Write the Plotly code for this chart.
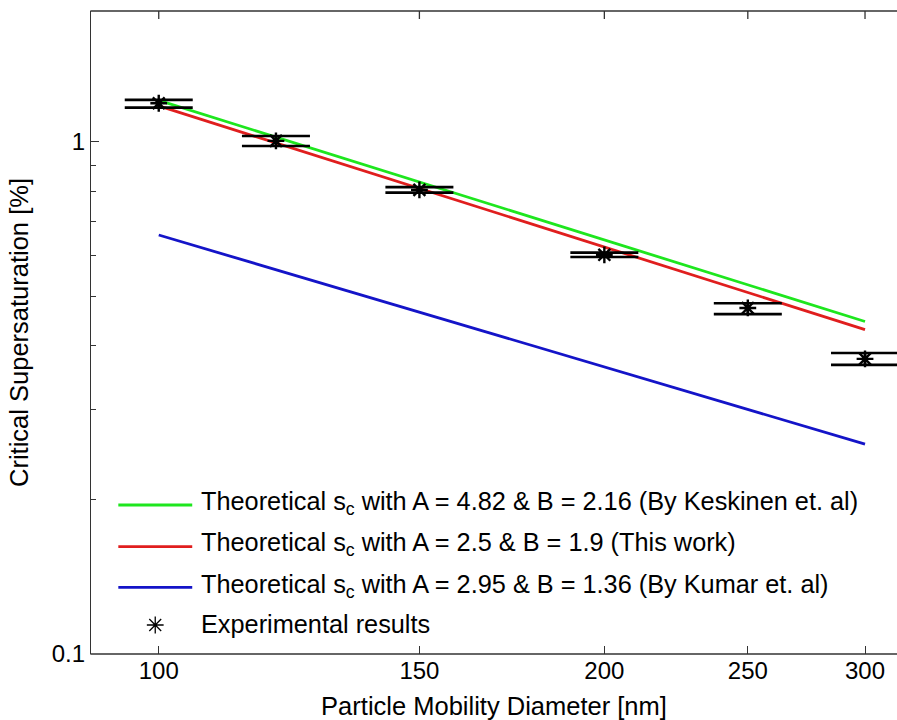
import math
import plotly.graph_objects as go

# ---------------- data ----------------
diameter_nm = [100, 120, 150, 200, 250, 300]
sc_experimental = [1.19, 1.005, 0.806, 0.602, 0.474, 0.377]
sc_err_plus = [0.018, 0.022, 0.010, 0.006, 0.010, 0.010]
sc_err_minus = [0.023, 0.023, 0.010, 0.006, 0.013, 0.010]

theory_diameter = [100, 300]
sc_keskinen = [1.205, 0.446]
sc_this_work = [1.176, 0.430]
sc_kumar = [0.658, 0.257]

series_names = [
    "Theoretical s<sub>c</sub> with A = 4.82 & B = 2.16 (By Keskinen et. al)",
    "Theoretical s<sub>c</sub> with A = 2.5 & B = 1.9 (This work)",
    "Theoretical s<sub>c</sub> with A = 2.95 & B = 1.36 (By Kumar et. al)",
    "Experimental results",
]
series_colors = ["#1ee61e", "#e01e1e", "#1414c8", "#000000"]

x_tick_vals = [100, 150, 200, 250, 300]
x_tick_text = ["100", "150", "200", "250", "300"]
y_tick_vals = [0.1, 1]
y_tick_text = ["0.1", "1"]
y_minor_vals = [0.2, 0.3, 0.4, 0.5, 0.6, 0.7, 0.8, 0.9]

X_RANGE = [math.log10(90), math.log10(315.3)]
Y_RANGE = [-1, 0.2557]

FONT = "Liberation Sans, Arial, Helvetica, sans-serif"
AXC = "#333333"
PLOT_H = 720 - 11 - 66

fig = go.Figure()

theory = [sc_keskinen, sc_this_work, sc_kumar]
for vals, name, col in zip(theory, series_names[:3], series_colors[:3]):
    fig.add_trace(go.Scatter(
        x=theory_diameter, y=vals, mode="lines", name=name,
        line=dict(color=col, width=2.8), showlegend=False))

fig.add_trace(go.Scatter(
    x=diameter_nm, y=sc_experimental, mode="markers", name=series_names[3],
    marker=dict(symbol="asterisk-open", size=14, color="black",
                line=dict(color="black", width=2.4)),
    error_y=dict(type="data", array=sc_err_plus, arrayminus=sc_err_minus,
                 symmetric=False, color="black", thickness=2.6, width=34),
    showlegend=False))

# ---------------- custom legend (paper units) -------------
leg_line_y = [0.2317, 0.1669, 0.1037]
leg_star_y = 0.0451
leg_text_y = [0.2341, 0.1703, 0.1065, 0.0467]
leg_x0, leg_x1, leg_xm, leg_text_x = 0.0339, 0.1256, 0.0797, 0.1344

shapes = []
for i in range(3):
    shapes.append(dict(type="line", xref="paper", yref="paper",
                       x0=leg_x0, x1=leg_x1, y0=leg_line_y[i], y1=leg_line_y[i],
                       line=dict(color=series_colors[i], width=2.8)))

# bottom and top frame edges (the box is open on the cropped right side)
for yy in (0, 1):
    shapes.append(dict(type="line", xref="paper", yref="paper", layer="above",
                       x0=-0.0008, x1=1.0, y0=yy, y1=yy,
                       line=dict(color=AXC, width=1.3)))
for tv in x_tick_vals:
    shapes.append(dict(type="line", xref="x", yref="paper", layer="above",
                       x0=tv, x1=tv, y0=1, y1=1 - 8 / PLOT_H,
                       line=dict(color=AXC, width=1.3)))


def paper_to_log(frac, rng):
    return 10 ** (rng[0] + frac * (rng[1] - rng[0]))


fig.add_trace(go.Scatter(
    x=[paper_to_log(leg_xm, X_RANGE)], y=[paper_to_log(leg_star_y, Y_RANGE)],
    mode="markers",
    marker=dict(symbol="asterisk-open", size=14, color="black",
                line=dict(color="black", width=1.3)),
    showlegend=False, hoverinfo="skip"))

annotations = []
for i, name in enumerate(series_names):
    annotations.append(dict(
        x=leg_text_x, y=leg_text_y[i], xref="paper", yref="paper",
        text=name, showarrow=False, xanchor="left", yanchor="middle",
        font=dict(family=FONT, size=25.3, color="black")))

fig.update_layout(
    width=897, height=720,
    margin=dict(l=91, r=0, t=11, b=66),
    paper_bgcolor="white", plot_bgcolor="white",
    font=dict(family=FONT, size=24, color="black"),
    annotations=annotations, shapes=shapes,
    xaxis=dict(
        type="log", range=X_RANGE,
        tickmode="array", tickvals=x_tick_vals, ticktext=x_tick_text,
        ticks="inside", ticklen=8, tickwidth=1.3, tickcolor=AXC,
        showline=False, mirror=False,
        showgrid=False, zeroline=False,
        tickfont=dict(family=FONT, size=24, color="black"),
        title=dict(text="Particle Mobility Diameter [nm]",
                   font=dict(family=FONT, size=25.5, color="black"))),
    yaxis=dict(
        type="log", range=Y_RANGE,
        tickmode="array", tickvals=y_tick_vals, ticktext=y_tick_text,
        ticks="inside", ticklen=8, tickwidth=1.3, tickcolor=AXC,
        minor=dict(tickmode="array", tickvals=y_minor_vals, ticks="inside",
                   ticklen=5, tickwidth=1.3, tickcolor=AXC, showgrid=False),
        showline=True, linecolor=AXC, linewidth=1.3, mirror=False,
        showgrid=False, zeroline=False,
        tickfont=dict(family=FONT, size=24, color="black"),
        title=dict(text="Critical Supersaturation [%]",
                   font=dict(family=FONT, size=25.5, color="black"))),
)

fig.write_html("out.html")
